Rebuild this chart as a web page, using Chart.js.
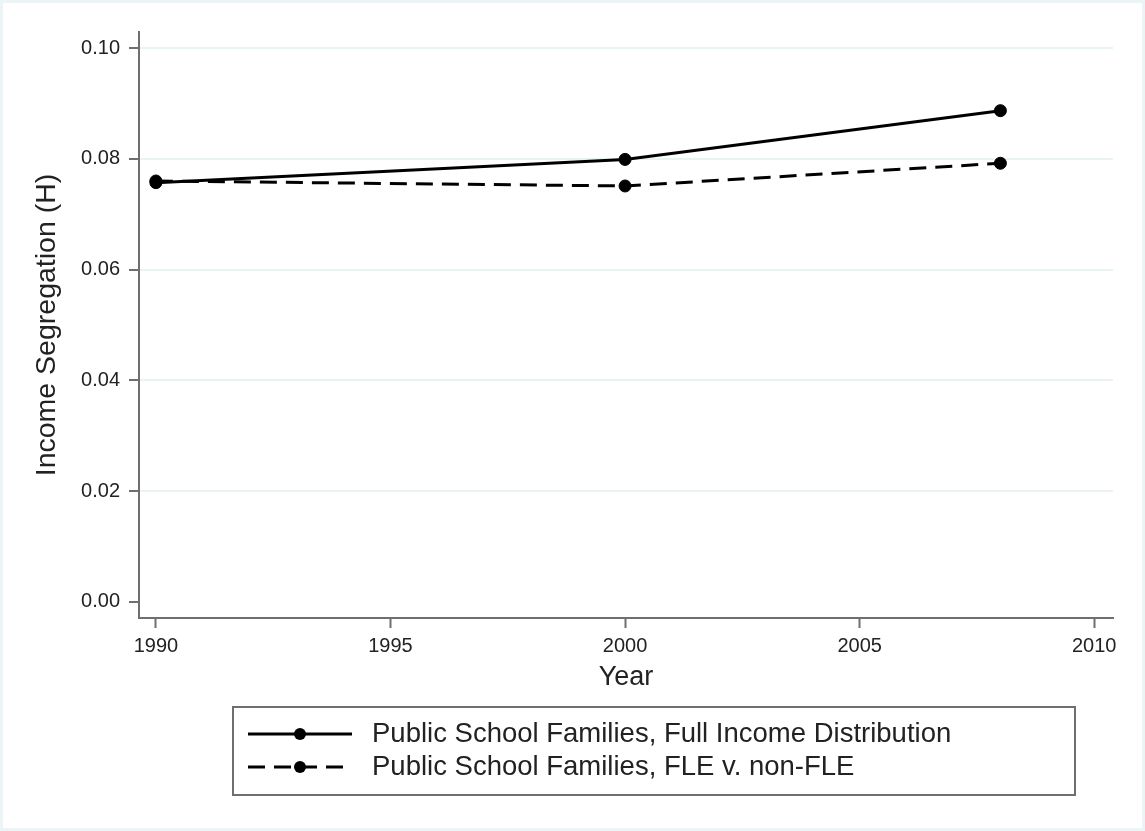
<!DOCTYPE html>
<html>
<head>
<meta charset="utf-8">
<script src="https://cdn.jsdelivr.net/npm/chart.js@4/dist/chart.umd.min.js"></script>
<style>
    html, body { margin: 0; padding: 0; background: #fff; }
</style>
</head>
<body>
<canvas id="myChart" width="1145" height="831"></canvas>
<script>
const years = [1990, 2000, 2008];
const fullIncome = [0.0757, 0.0799, 0.0887];
const fleNonFle = [0.0760, 0.0751, 0.0792];

const xTicks = [1990, 1995, 2000, 2005, 2010];
const yTicks = [0.00, 0.02, 0.04, 0.06, 0.08, 0.10];

const seriesLabels = [
    'Public School Families, Full Income Distribution',
    'Public School Families, FLE v. non-FLE'
];

const fontFamily = "'Liberation Sans', Arial, Helvetica, sans-serif";
const textColor = '#222';
const axisColor = '#6f6f6f';
const gridColor = '#eaf2f3';

function toPoints(xs, ys) {
    return xs.map((x, i) => ({ x: x, y: ys[i] }));
}

// outer frame + white background
const framePlugin = {
    id: 'frame',
    beforeDraw(chart) {
        const ctx = chart.ctx;
        ctx.save();
        ctx.fillStyle = '#fff';
        ctx.fillRect(0, 0, chart.width, chart.height);
        ctx.strokeStyle = '#edf4f5';
        ctx.lineWidth = 3;
        ctx.strokeRect(1.5, 1.5, chart.width - 3, chart.height - 3);
        ctx.restore();
    }
};

// boxed legend, Stata style
const boxLegend = {
    id: 'boxLegend',
    afterDraw(chart, args, opts) {
        const ctx = chart.ctx;
        ctx.save();
        ctx.strokeStyle = axisColor;
        ctx.lineWidth = 2;
        ctx.strokeRect(opts.left, opts.top, opts.width, opts.height);
        chart.data.datasets.forEach((ds, i) => {
            const y = opts.firstRow + i * opts.rowGap;
            const x0 = opts.left + 15;
            const x1 = x0 + 104;
            ctx.strokeStyle = ds.borderColor;
            ctx.lineWidth = ds.borderWidth;
            ctx.setLineDash(ds.borderDash || []);
            ctx.beginPath();
            ctx.moveTo(x0, y);
            ctx.lineTo(x1, y);
            ctx.stroke();
            ctx.setLineDash([]);
            ctx.fillStyle = ds.pointBackgroundColor;
            ctx.beginPath();
            ctx.arc((x0 + x1) / 2, y, 6, 0, Math.PI * 2);
            ctx.fill();
            ctx.fillStyle = textColor;
            ctx.font = '27.5px ' + fontFamily;
            ctx.textBaseline = 'middle';
            ctx.textAlign = 'left';
            ctx.fillText(ds.label, x1 + 20, y);
        });
        ctx.restore();
    }
};

const data = {
    datasets: [{
            label: seriesLabels[0],
            data: toPoints(years, fullIncome),
            borderColor: '#000',
            backgroundColor: '#000',
            pointBackgroundColor: '#000',
            pointBorderColor: '#000',
            borderWidth: 3,
            pointRadius: 6,
            pointBorderWidth: 1,
            tension: 0
        },
        {
            label: seriesLabels[1],
            data: toPoints(years, fleNonFle),
            borderColor: '#000',
            backgroundColor: '#000',
            pointBackgroundColor: '#000',
            pointBorderColor: '#000',
            borderWidth: 3,
            borderDash: [17, 9],
            pointRadius: 6,
            pointBorderWidth: 1,
            tension: 0
        }
    ]
};

const config = {
    type: 'line',
    data: data,
    plugins: [framePlugin, boxLegend],
    options: {
        responsive: false,
        animation: false,
        layout: {
            padding: { left: 0, top: 32, right: 32, bottom: 131 }
        },
        plugins: {
            legend: { display: false },
            tooltip: { enabled: false },
            boxLegend: {
                left: 233, top: 707, width: 842, height: 88,
                firstRow: 734, rowGap: 33
            }
        },
        scales: {
            x: {
                type: 'linear',
                min: 1989.64,
                max: 2010.4,
                afterBuildTicks: axis => { axis.ticks = xTicks.map(v => ({ value: v })); },
                afterFit: axis => { axis.height = 82; },
                grid: {
                    color: 'rgba(0,0,0,0)',
                    tickColor: axisColor,
                    tickLength: 10,
                    tickWidth: 2
                },
                border: { color: axisColor, width: 2 },
                ticks: {
                    color: textColor,
                    font: { family: fontFamily, size: 20 },
                    padding: 6,
                    maxRotation: 0,
                    callback: v => String(v)
                },
                title: {
                    display: true,
                    text: 'Year',
                    color: textColor,
                    font: { family: fontFamily, size: 27 },
                    padding: { top: 0, bottom: 6 }
                }
            },
            y: {
                type: 'linear',
                min: -0.0029,
                max: 0.1029,
                afterBuildTicks: axis => { axis.ticks = yTicks.map(v => ({ value: v })); },
                afterFit: axis => { axis.width = 139; },
                grid: {
                    color: c => (c.tick && c.tick.value === 0) ? 'rgba(0,0,0,0)' : gridColor,
                    lineWidth: 2,
                    tickColor: axisColor,
                    tickLength: 10,
                    tickWidth: 2
                },
                border: { color: axisColor, width: 2 },
                ticks: {
                    color: textColor,
                    font: { family: fontFamily, size: 20 },
                    padding: 9,
                    callback: v => v.toFixed(2)
                },
                title: {
                    display: true,
                    text: 'Income Segregation (H)',
                    color: textColor,
                    font: { family: fontFamily, size: 28.5 },
                    padding: { top: 30, bottom: 0 }
                }
            }
        }
    }
};

var myChart = new Chart(document.getElementById('myChart'), config);
</script>
</body>
</html>
